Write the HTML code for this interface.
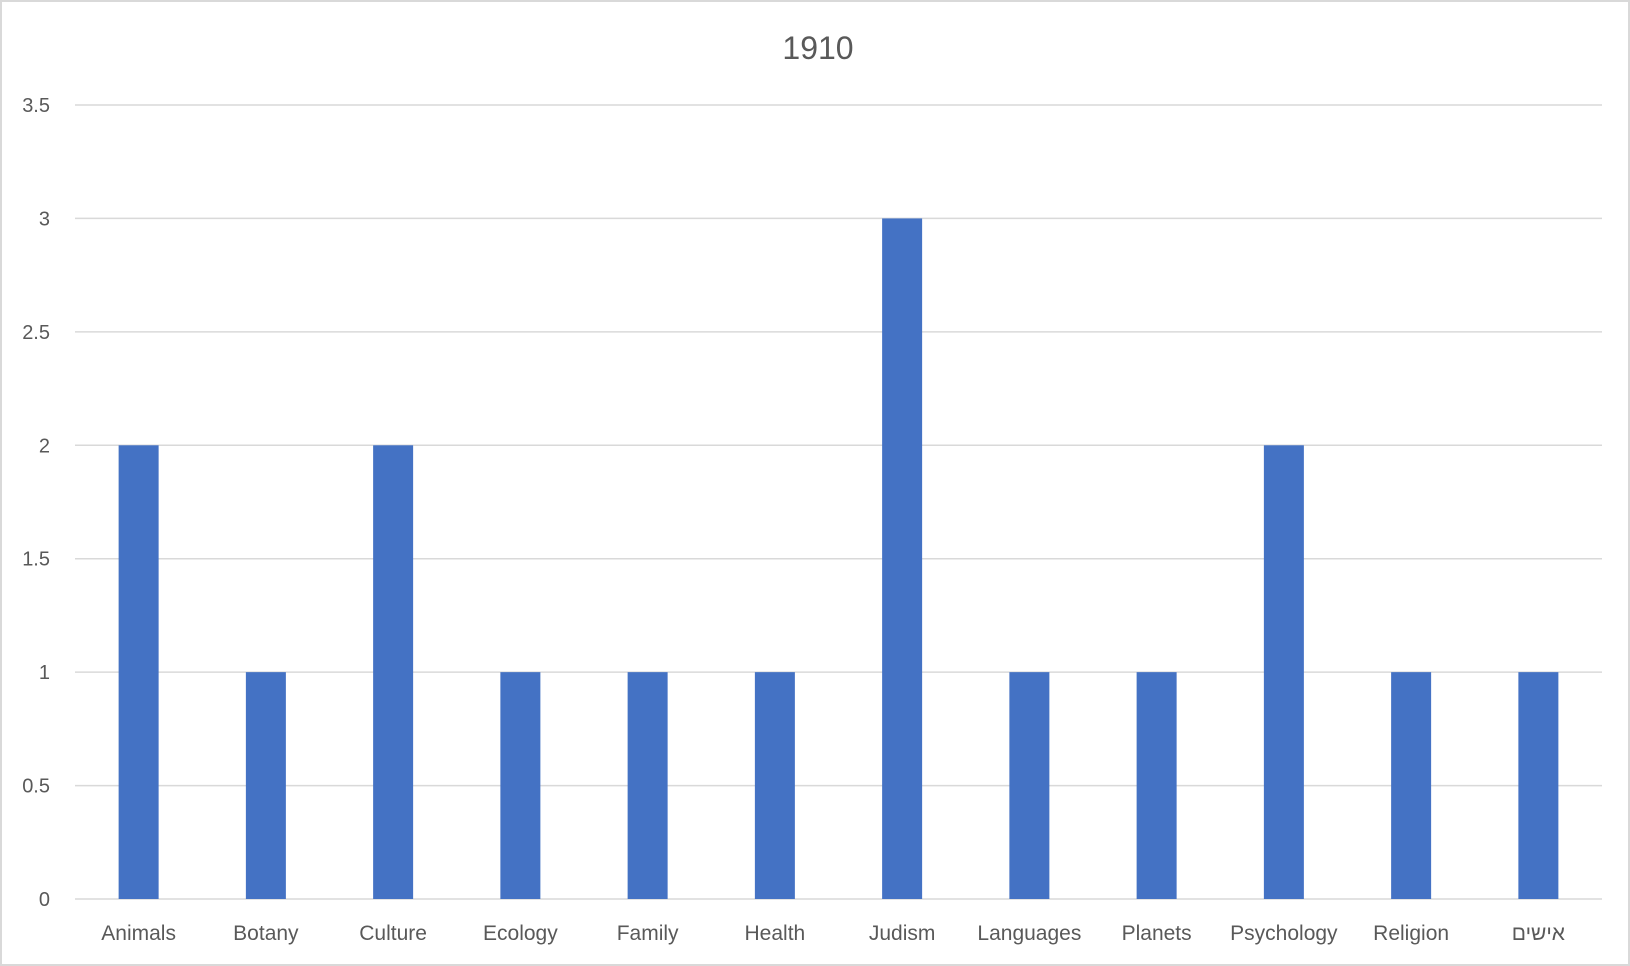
<!DOCTYPE html>
<html><head><meta charset="utf-8"><style>
html,body{margin:0;padding:0;background:#fff;}
svg{display:block;font-family:"Liberation Sans","Noto Sans CJK JP",sans-serif;}
</style></head><body>
<svg id="chart" width="1630" height="966">
<rect x="1" y="1" width="1628" height="964" fill="#fff" stroke="#d9d9d9" stroke-width="2"/>
<text x="818" y="59" text-anchor="middle" font-size="32" fill="#595959">1910</text>
<g id="grid"></g><g id="bars"></g><g id="xlabels"></g><g id="ylabels"></g>
</svg>
<script>
const categories = ["Animals","Botany","Culture","Ecology","Family","Health","Judism","Languages","Planets","Psychology","Religion","אישים"];
const values = [2,1,2,1,1,1,3,1,1,2,1,1];
const yTicks = [0,0.5,1,1.5,2,2.5,3,3.5];
const yTickLabels = ["0","0.5","1","1.5","2","2.5","3","3.5"];
const NS="http://www.w3.org/2000/svg";
const L=75,R=1602,Y0=899,Ytop=105,yMax=3.5;
const y=v=>Y0-(v/yMax)*(Y0-Ytop);
const bw=(R-L)/categories.length;
const x=i=>L+bw*(i+0.5);
function mk(tag,attrs,parent){const e=document.createElementNS(NS,tag);for(const k in attrs)e.setAttribute(k,attrs[k]);document.getElementById(parent).appendChild(e);return e;}
yTicks.forEach((t,i)=>{
  const g=mk("line",{x1:L,x2:R,y1:y(t),y2:y(t),stroke:"#d9d9d9","stroke-width":1.5},"grid");
  
  
  const tx=mk("text",{x:50,y:y(t)+7,"text-anchor":"end","font-size":20,fill:"#595959"},"ylabels");
  tx.textContent=yTickLabels[i];
  
  
});
categories.forEach((c,i)=>{
  const b=mk("rect",{x:x(i)-20,width:40,y:y(values[i]),height:Y0-y(values[i]),fill:"#4472c4"},"bars");
  
  
  const t=mk("text",{x:x(i),y:940,"text-anchor":"middle","font-size":21,fill:"#595959"},"xlabels");
  t.textContent=c;
  
  
});
</script>
</body></html>
